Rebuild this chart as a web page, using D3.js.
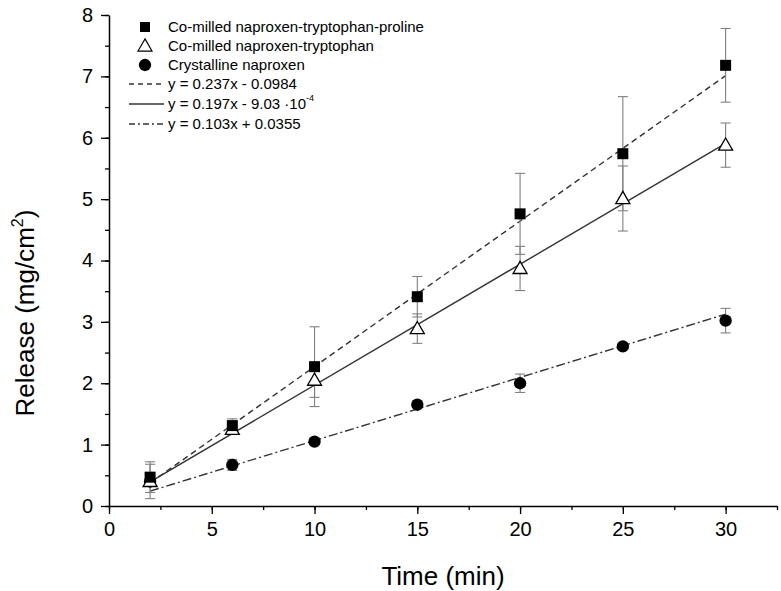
<!DOCTYPE html>
<html><head><meta charset="utf-8">
<script src="https://cdn.jsdelivr.net/npm/d3@7"></script>
<style>body{margin:0;background:#fff}svg{display:block}text{font-family:"Liberation Sans",Arial,sans-serif}</style>
</head><body><svg id="c" width="781" height="591"></svg>
<script>
const times = [2, 6, 10, 15, 20, 25, 30];
const proline = [0.47, 1.31, 2.27, 3.41, 4.76, 5.74, 7.18];
const prolineErr = [0.25, 0.11, 0.65, 0.33, 0.66, 0.93, 0.60];
const trypto = [0.40, 1.25, 2.05, 2.89, 3.87, 5.01, 5.88];
const tryptoErr = [0.28, 0.08, 0.28, 0.24, 0.36, 0.53, 0.36];
const crystal = [0.40, 0.67, 1.05, 1.65, 2.00, 2.60, 3.02];
const crystalErr = [0.05, 0.09, 0.04, 0.04, 0.15, 0.04, 0.20];
const fits = [[0.237, -0.0984], [0.197, -0.000903], [0.103, 0.0355]];
const xTicks = [0, 5, 10, 15, 20, 25, 30];
const yTicks = [0, 1, 2, 3, 4, 5, 6, 7, 8];
const legendNames = ["Co-milled naproxen-tryptophan-proline", "Co-milled naproxen-tryptophan", "Crystalline naproxen"];

const svg = d3.select("#c");
const x = d3.scaleLinear().domain([0, 32.5]).range([109, 777]);
const y = d3.scaleLinear().domain([0, 8]).range([506, 15]);

// axes
const xMinor = d3.range(0, 32.6, 2.5);
const yMinor = d3.range(0, 8.01, 0.5);
const gx = svg.append("g").attr("transform", "translate(0,506)");
gx.call(d3.axisBottom(x).tickValues(xMinor).tickSize(4).tickFormat(""));
gx.call(g => g.select(".domain").remove());
const gx2 = svg.append("g").attr("transform", "translate(0,506)");
gx2.call(d3.axisBottom(x).tickValues(xTicks).tickSize(8).tickSizeOuter(0).tickPadding(8).tickFormat(d3.format("d")));
gx2.selectAll("text").attr("font-size", 20).attr("fill", "#000");
gx2.select(".domain").attr("stroke-width", 1.5);

const gy = svg.append("g").attr("transform", "translate(109,0)");
gy.call(d3.axisLeft(y).tickValues(yMinor).tickSize(4).tickFormat(""));
gy.call(g => g.select(".domain").remove());
const gy2 = svg.append("g").attr("transform", "translate(109,0)");
gy2.call(d3.axisLeft(y).tickValues(yTicks).tickSize(8).tickSizeOuter(0).tickPadding(8).tickFormat(d3.format("d")));
gy2.selectAll("text").attr("font-size", 20).attr("fill", "#000");
gy2.select(".domain").attr("stroke-width", 1.5);
svg.selectAll("g.tick line").attr("stroke-width", 1.3);

// axis titles
svg.append("text").attr("x", 443).attr("y", 585).attr("text-anchor", "middle")
  .attr("font-size", 26).text("Time (min)");
const yl = svg.append("text").attr("transform", "translate(34,313) rotate(-90)")
  .attr("text-anchor", "middle").attr("font-size", 26);
yl.append("tspan").text("Release (mg/cm");
yl.append("tspan").attr("font-size", 16).attr("dy", -11).text("2");
yl.append("tspan").attr("dy", 11).text(")");

// fit lines
const dashes = ["6,4", null, "9,3,2,3"];
fits.forEach((f, i) => {
  const line = d3.line().x(d => x(d)).y(d => y(f[0] * d + f[1]));
  svg.append("path").datum([2, 30]).attr("d", line)
    .attr("fill", "none").attr("stroke", "#333").attr("stroke-width", 1.4)
    .attr("stroke-dasharray", dashes[i]);
});

// error bars
function errBars(vals, errs) {
  const g = svg.append("g").attr("stroke", "#808080").attr("stroke-width", 1.1);
  times.forEach((t, i) => {
    const cx = x(t), top = y(vals[i] + errs[i]), bot = y(vals[i] - errs[i]);
    g.append("line").attr("x1", cx).attr("x2", cx).attr("y1", top).attr("y2", bot);
    g.append("line").attr("x1", cx - 5).attr("x2", cx + 5).attr("y1", top).attr("y2", top);
    g.append("line").attr("x1", cx - 5).attr("x2", cx + 5).attr("y1", bot).attr("y2", bot);
  });
}
errBars(crystal, crystalErr);
errBars(trypto, tryptoErr);
errBars(proline, prolineErr);

// markers
const sq = d3.symbol().type(d3.symbolSquare).size(121);
const tri = d3.symbol().type(d3.symbolTriangle).size(85);
const circ = d3.symbol().type(d3.symbolCircle).size(120);
svg.append("g").selectAll("path").data(times).join("path")
  .attr("transform", (d, i) => `translate(${x(d)},${y(crystal[i])})`).attr("d", circ).attr("fill", "#000");
svg.append("g").selectAll("path").data(times).join("path")
  .attr("transform", (d, i) => `translate(${x(d)},${y(trypto[i]) + 1})`).attr("d", tri)
  .attr("fill", "#fff").attr("stroke", "#000").attr("stroke-width", 1.3);
svg.append("g").selectAll("path").data(times).join("path")
  .attr("transform", (d, i) => `translate(${x(d)},${y(proline[i])})`).attr("d", sq).attr("fill", "#000");

// legend
const lg = svg.append("g");
const rowY = [27, 46, 65, 84, 104, 124];
const lsyms = [
  d3.symbol().type(d3.symbolSquare).size(100)(),
  d3.symbol().type(d3.symbolTriangle).size(85)(),
  d3.symbol().type(d3.symbolCircle).size(120)()
];
legendNames.forEach((n, i) => {
  const p = lg.append("path").attr("d", lsyms[i]).attr("transform", `translate(145,${rowY[i] + (i === 1 ? 1 : 0)})`);
  if (i === 1) p.attr("fill", "#fff").attr("stroke", "#000").attr("stroke-width", 1.2);
  else p.attr("fill", "#000");
  lg.append("text").attr("x", 168).attr("y", rowY[i] + 5).attr("font-size", 15).text(n);
});
const eqs = [
  [{t: "y = 0.237x - 0.0984"}],
  [{t: "y = 0.197x - 9.03 \u00b710"}, {t: "-4", sup: true}],
  [{t: "y = 0.103x + 0.0355"}]
];
eqs.forEach((parts, i) => {
  const yy = rowY[i + 3];
  lg.append("line").attr("x1", 129).attr("x2", 164).attr("y1", yy).attr("y2", yy)
    .attr("stroke", "#333").attr("stroke-width", 1.3).attr("stroke-dasharray", dashes[i] ? (i === 0 ? "5,4" : "6,3,2,3") : null);
  const t = lg.append("text").attr("x", 168).attr("y", yy + 5).attr("font-size", 15);
  parts.forEach(p => {
    if (p.sup) t.append("tspan").attr("font-size", 9).attr("dy", -8).text(p.t);
    else t.append("tspan").text(p.t);
  });
});
</script></body></html>
